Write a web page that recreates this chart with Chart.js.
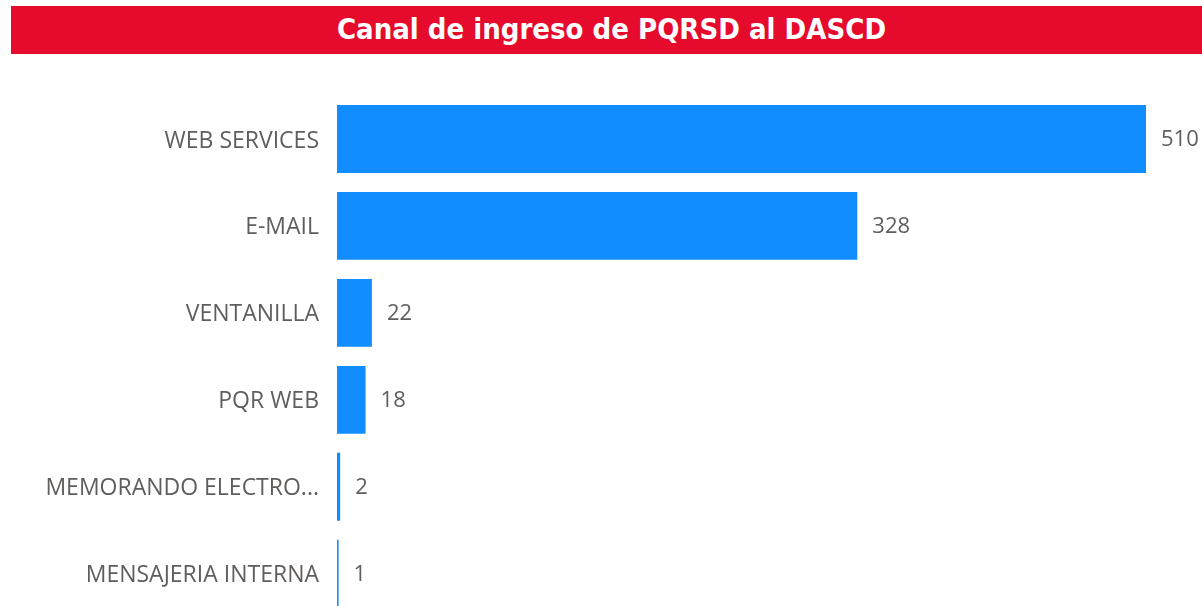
<!DOCTYPE html>
<html>
<head>
<meta charset="utf-8">
<script src="https://cdn.jsdelivr.net/npm/chart.js@4"></script>
<style>
html,body{margin:0;padding:0;background:#fff;overflow:hidden;width:1202px;height:606px;}
#title{position:absolute;left:11px;top:6px;width:1191px;height:48px;background:#E60A2D;color:#fff;
font-family:"DejaVu Sans Condensed","DejaVu Sans",sans-serif;font-weight:bold;font-size:29px;line-height:46px;text-align:center;padding-left:10px;box-sizing:border-box;z-index:2;}
#c{position:absolute;left:0;top:0;}
</style>
</head>
<body>
<div id="title">Canal de ingreso de PQRSD al DASCD</div>
<canvas id="c" width="1202" height="649"></canvas>
<script>
const categories = ["WEB SERVICES","E-MAIL","VENTANILLA","PQR WEB","MEMORANDO ELECTRONICO","MENSAJERIA INTERNA"];
const values = [510, 328, 22, 18, 2, 1];

const valueLabels = {
  id: 'valueLabels',
  afterDatasetsDraw(chart) {
    const ctx = chart.ctx;
    const meta = chart.getDatasetMeta(0);
    ctx.save();
    ctx.font = '22px "Open Sans", sans-serif';
    ctx.fillStyle = '#605E5C';
    ctx.textAlign = 'left';
    ctx.textBaseline = 'middle';
    meta.data.forEach((bar, i) => {
      ctx.fillText(String(values[i]), bar.x + 15, bar.y + 1);
    });
    ctx.restore();
  }
};

new Chart(document.getElementById('c'), {
  type: 'bar',
  data: {
    labels: categories,
    datasets: [{
      data: values,
      backgroundColor: '#118DFF',
      borderWidth: 0,
      categoryPercentage: 1,
      barPercentage: 0.78
    }]
  },
  options: {
    indexAxis: 'y',
    responsive: false,
    maintainAspectRatio: false,
    animation: false,
    devicePixelRatio: 1,
    layout: { padding: { top: 95.5, bottom: 2.5, right: 56, left: 0 } },
    plugins: { legend: { display: false }, tooltip: { enabled: false } },
    scales: {
      x: { display: false, min: 0, max: 510 },
      y: {
        grid: { display: false, drawTicks: false },
        border: { display: false },
        ticks: {
          padding: 18,
          labelOffset: 2,
          color: '#605E5C',
          font: { family: '"Open Sans", sans-serif', size: 23 },
          callback: function(v, i) {
            const s = categories[i];
            return s.length > 18 ? s.slice(0, 17) + '...' : s;
          }
        },
        afterFit(scale) { scale.width = 337; }
      }
    }
  },
  plugins: [valueLabels]
});
</script>
</body>
</html>
